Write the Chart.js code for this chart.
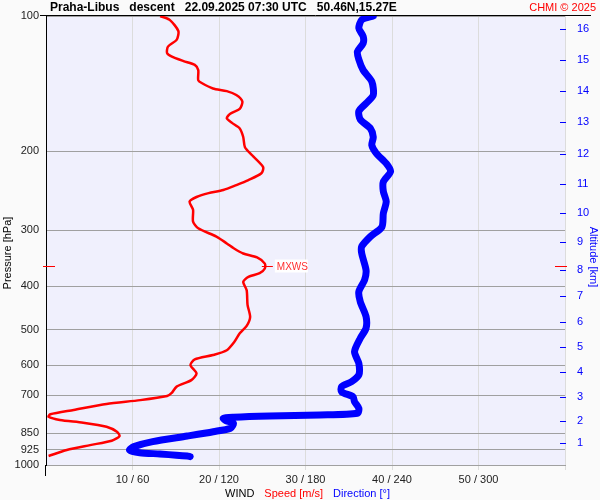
<!DOCTYPE html>
<html>
<head>
<meta charset="utf-8">
<script src="https://cdn.jsdelivr.net/npm/chart.js@4.4.1/dist/chart.umd.min.js"></script>
<style>
  html, body { margin: 0; padding: 0; background: #fafafa; }
</style>
</head>
<body>
<canvas id="sounding" width="600" height="500"></canvas>
<script>
// axes
const pressureTicks = [100, 200, 300, 400, 500, 600, 700, 850, 925, 1000];
const speedTicks = [10, 20, 30, 40, 50, 60];
const speedTickLabels = ['10 / 60', '20 / 120', '30 / 180', '40 / 240', '50 / 300', ''];
const altitudeKm = [1, 2, 3, 4, 5, 6, 7, 8, 9, 10, 11, 12, 13, 14, 15, 16];
const altitudePressure = [893, 798, 706, 621, 546, 480, 420, 368, 319, 275, 237, 203, 172, 147, 125, 107];

// wind speed profile [m/s] vs pressure [hPa]
const speedPressure = [100, 102, 108, 113, 117, 121, 123, 126, 128.5, 132, 139, 141, 145, 147, 150, 155, 161, 165, 169, 173,
  178, 186, 196, 204, 217, 224, 232, 238, 244, 248, 253, 259, 270, 287, 297, 310, 321, 329, 338, 345,
  356, 365, 374, 381, 391, 408, 440, 468, 490, 509, 531, 555, 569, 582, 599, 625, 647, 669, 692, 702,
  717, 731, 754, 771, 781, 794, 805, 822, 843, 862, 883, 903, 926, 955];
const speedValues = [13.2, 14.3, 15.3, 15.1, 14.1, 14.0, 14.5, 15.9, 17.2, 17.6, 17.6, 18.0, 19.3, 20.9, 22.0, 22.7, 22.4, 21.3, 20.9, 21.5,
  22.4, 22.8, 23.0, 23.8, 25.1, 24.9, 23.4, 22.0, 20.5, 18.8, 17.4, 16.6, 17.0, 17.0, 17.6, 19.7, 20.9, 21.7, 22.8, 24.4,
  25.3, 25.3, 24.7, 23.4, 22.8, 23.2, 23.3, 23.6, 23.2, 22.4, 21.8, 20.9, 19.3, 17.2, 16.7, 17.4, 16.8, 15.1, 14.5, 14.0,
  10.9, 7.0, 3.2, 0.5, 0.3, 1.6, 4.3, 7.0, 8.2, 8.5, 7.6, 5.1, 2.4, 0.3];

// wind direction profile [deg] vs pressure [hPa]
const dirPressure = [100, 102, 106.5, 111, 115, 120, 125, 132, 140, 150, 156.5, 163, 170, 178, 186, 194, 202, 213, 222, 234,
  246, 259, 275, 295, 310, 326, 338, 368, 387, 411, 433, 467, 496, 522, 559, 594, 630, 652, 669, 687,
  705, 723, 748, 767, 774, 778, 783, 787, 797, 807, 828, 843, 862, 887, 910, 926, 939, 945, 955, 958];
const dirValues = [227, 219, 217, 220, 220, 216, 217, 220, 226, 227, 222, 217, 218, 225, 227, 226, 229, 236, 239, 234,
  234, 236, 234, 233, 225, 219, 219, 222, 221, 217, 218, 222, 222, 218, 214, 217, 217, 212, 205, 205,
  213, 214, 217, 216, 190, 155, 130, 123, 125, 130, 128, 116, 98, 74, 61, 58, 65, 79, 98, 100];

const maxWindPressure = 360;
const maxWindSpeed = 25.3;

const FONT = 'Liberation Sans, Arial, sans-serif';
Chart.defaults.font.family = FONT;

function fixedTicks(values) {
  return scale => { scale.ticks = values.map(v => ({ value: v })); };
}

const decorations = {
  id: 'decorations',
  beforeDraw(chart) {
    const { ctx, chartArea: a } = chart;
    ctx.save();
    ctx.fillStyle = '#f0f0fd';
    ctx.fillRect(a.left, a.top, a.right - a.left, a.bottom - a.top);
    ctx.restore();
  },
  afterDraw(chart) {
    const { ctx, chartArea: a } = chart;
    const x = chart.scales.x, y = chart.scales.y, y2 = chart.scales.y2;
    ctx.save();

    // header
    ctx.textBaseline = 'middle';
    ctx.fillStyle = '#000';
    ctx.font = 'bold 12px ' + FONT;
    ctx.textAlign = 'left';
    ctx.fillText('Praha-Libus   descent   22.09.2025 07:30 UTC   50.46N,15.27E', 50, 8);
    ctx.fillStyle = '#ff0000';
    ctx.font = '11px ' + FONT;
    ctx.textAlign = 'right';
    ctx.fillText('CHMI \u00a9 2025', 596, 8);

    // top frame line and left axis extension
    ctx.strokeStyle = '#000';
    ctx.lineWidth = 1;
    const top = Math.round(y.getPixelForValue(100)) - 0.5;
    ctx.beginPath();
    ctx.moveTo(40, top); ctx.lineTo(591, top);
    ctx.moveTo(a.left - 0.5, a.bottom); ctx.lineTo(a.left - 0.5, a.bottom + 11);
    ctx.stroke();

    // altitude tick marks inside the right edge
    ctx.strokeStyle = '#0000ff';
    ctx.beginPath();
    y2.ticks.forEach(t => {
      const py = Math.round(y2.getPixelForValue(t.value)) + 0.5;
      ctx.moveTo(a.right - 5, py); ctx.lineTo(a.right + 1, py);
    });
    ctx.stroke();

    // max wind marker
    const my = Math.round(y.getPixelForValue(maxWindPressure)) + 0.5;
    const mx = x.getPixelForValue(maxWindSpeed);
    ctx.strokeStyle = '#ff0000';
    ctx.beginPath();
    ctx.moveTo(mx - 3, my); ctx.lineTo(mx + 8, my);
    ctx.moveTo(a.left - 3, my); ctx.lineTo(a.left + 9, my);
    ctx.moveTo(a.right - 10, my); ctx.lineTo(a.right + 2, my);
    ctx.stroke();
    ctx.fillStyle = '#ffffff';
    ctx.fillRect(mx + 10, my - 7, 33, 13);
    ctx.fillStyle = '#ff3030';
    ctx.font = '10px ' + FONT;
    ctx.textAlign = 'left';
    ctx.fillText('MXWS', mx + 12, my + 1);

    // axis titles
    ctx.font = '11px ' + FONT;
    ctx.textAlign = 'center';
    ctx.fillStyle = '#000';
    ctx.save();
    ctx.translate(8, 253);
    ctx.rotate(-Math.PI / 2);
    ctx.fillText('Pressure [hPa]', 0, 0);
    ctx.restore();
    ctx.fillStyle = '#0000ff';
    ctx.save();
    ctx.translate(593, 257);
    ctx.rotate(Math.PI / 2);
    ctx.fillText('Altitude [km]', 0, 0);
    ctx.restore();

    // bottom legend
    const parts = [['WIND', '#000'], ['Speed [m/s]', '#ff0000'], ['Direction [\u00b0]', '#0000ff']];
    const gap = 10;
    const widths = parts.map(p => ctx.measureText(p[0]).width);
    const total = widths.reduce((s, w) => s + w, 0) + gap * (parts.length - 1);
    let cx = (a.left + a.right) / 2 - total / 2 + 2;
    ctx.textAlign = 'left';
    parts.forEach((p, i) => {
      ctx.fillStyle = p[1];
      ctx.fillText(p[0], cx, 494);
      cx += widths[i] + gap;
    });
    ctx.restore();
  }
};

new Chart(document.getElementById('sounding'), {
  type: 'scatter',
  data: {
    datasets: [
      {
        label: 'Direction',
        data: dirPressure.map((p, i) => ({ x: dirValues[i], y: p })),
        xAxisID: 'x2',
        yAxisID: 'y',
        showLine: true,
        borderColor: '#0000ff',
        borderWidth: 7,
        borderCapStyle: 'round',
        borderJoinStyle: 'round',
        pointRadius: 0,
        tension: 0.25,
        order: 0
      },
      {
        label: 'Speed',
        data: speedPressure.map((p, i) => ({ x: speedValues[i], y: p })),
        xAxisID: 'x',
        yAxisID: 'y',
        showLine: true,
        borderColor: '#ff0000',
        borderWidth: 2.5,
        borderJoinStyle: 'round',
        pointRadius: 0,
        tension: 0.25,
        order: 1
      }
    ]
  },
  options: {
    responsive: false,
    animation: false,
    layout: { padding: { top: 16, left: 0, right: 0, bottom: 0 } },
    plugins: { legend: { display: false }, tooltip: { enabled: false } },
    scales: {
      x: {
        type: 'linear',
        position: 'bottom',
        min: 0,
        max: 60,
        afterFit: s => { s.height = 35; },
        afterBuildTicks: fixedTicks(speedTicks),
        grid: { color: '#dcdcdc', tickColor: '#dcdcdc', tickLength: 5 },
        border: { color: '#a0a0a0' },
        ticks: {
          autoSkip: false,
          maxRotation: 0,
          padding: 3,
          color: '#222',
          font: { size: 11 },
          callback: (v, i) => speedTickLabels[i]
        }
      },
      x2: {
        type: 'linear',
        position: 'bottom',
        min: 0,
        max: 360,
        display: false
      },
      y: {
        type: 'logarithmic',
        position: 'left',
        reverse: true,
        min: 100,
        max: 1000,
        afterFit: s => { s.width = 46; },
        afterBuildTicks: fixedTicks(pressureTicks),
        grid: { color: '#a0a0a0', drawTicks: false },
        border: { color: '#000' },
        ticks: {
          autoSkip: false,
          padding: 7,
          color: '#222',
          font: { size: 11 },
          callback: v => String(v)
        }
      },
      y2: {
        type: 'logarithmic',
        position: 'right',
        reverse: true,
        min: 100,
        max: 1000,
        afterFit: s => { s.width = 35; },
        afterBuildTicks: fixedTicks(altitudePressure),
        grid: { display: false },
        border: { display: false },
        ticks: {
          autoSkip: false,
          padding: 4,
          color: '#0000ff',
          font: { size: 11 },
          callback: (v, i) => String(altitudeKm[i])
        }
      }
    }
  },
  plugins: [decorations]
});
</script>
</body>
</html>
